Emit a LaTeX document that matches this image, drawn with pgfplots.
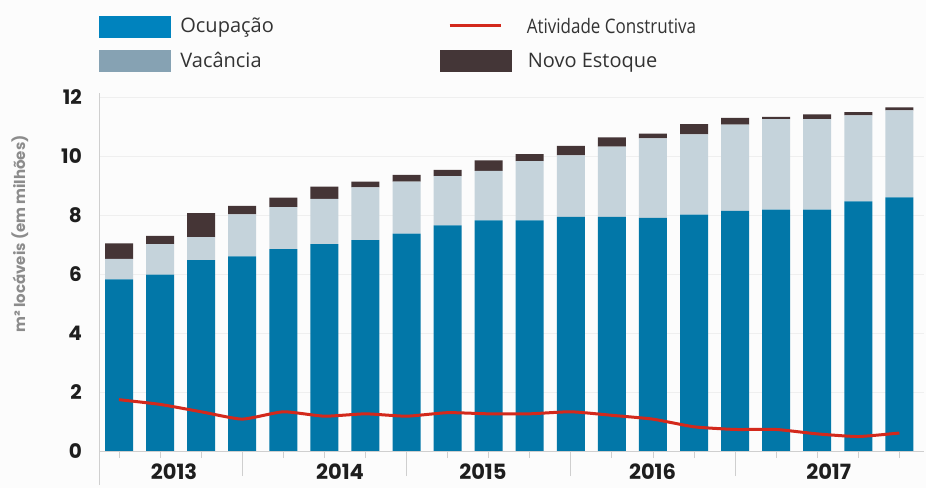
\documentclass[border=0pt]{standalone}
\usepackage{pgfplots}
\pgfplotsset{compat=1.18}
\usepackage{pgfplotstable}
\usepackage{fontspec}
\setmainfont{Poppins}
\newfontfamily\legfont{Open Sans}
\definecolor{ocupc}{HTML}{0277A8}
\definecolor{vacc}{HTML}{C5D3DB}
\definecolor{novoc}{HTML}{453536}
\definecolor{redc}{HTML}{D3291C}
\definecolor{legocup}{HTML}{0083BE}
\definecolor{legvac}{HTML}{86A2B3}
\definecolor{legnovo}{HTML}{443637}
\definecolor{gridc}{HTML}{EFEFEF}
\definecolor{axisc}{HTML}{CFCFCF}
\definecolor{tickc}{HTML}{1E1E1E}
\definecolor{ylabc}{HTML}{8C8C8C}
\definecolor{legtext}{HTML}{333333}
\definecolor{bgc}{HTML}{FCFCFC}

\pgfplotstableread{
i ocup vac novo
0 5.82 0.69 0.53
1 5.98 1.03 0.28
2 6.47 0.78 0.81
3 6.60 1.42 0.29
4 6.84 1.43 0.32
5 7.01 1.54 0.41
6 7.15 1.79 0.19
7 7.37 1.76 0.23
8 7.65 1.67 0.21
9 7.82 1.68 0.35
10 7.82 2.01 0.23
11 7.94 2.08 0.32
12 7.94 2.38 0.31
13 7.90 2.70 0.16
14 8.01 2.72 0.35
15 8.14 2.92 0.23
16 8.18 3.07 0.08
17 8.18 3.07 0.16
18 8.46 2.92 0.11
19 8.60 2.95 0.10
}\bardata

\pgfplotstableread{
i ativ
0 1.74
1 1.58
2 1.33
3 1.08
4 1.33
5 1.18
6 1.26
7 1.18
8 1.30
9 1.26
10 1.26
11 1.33
12 1.21
13 1.08
14 0.82
15 0.73
16 0.73
17 0.58
18 0.49
19 0.61
}\linedata

\begin{document}
\begin{tikzpicture}
\useasboundingbox (0,0) rectangle (926bp,488bp);
\fill[bgc] (0,0) rectangle (926bp,488bp);
\begin{axis}[
  at={(99bp,37bp)}, anchor=south west,
  scale only axis, width=825bp, height=358.4bp,
  xmin=-0.487, xmax=19.6, ymin=0, ymax=12.15,
  ybar stacked, bar width=28bp,
  axis x line*=bottom, axis y line*=left,
  axis line style={draw=axisc, line width=1bp, -},
  y axis line style={shorten <=-34bp},
  xtick={0,...,19}, xticklabels={},
  extra x ticks={3,7,11,15}, extra x tick labels={},
  extra x tick style={major tick length=25bp, grid=none},
  tick align=outside, major tick length=7bp,
  x tick style={draw=axisc, line width=0.8bp},
  ytick={0,2,...,12},
  ytick style={draw=none},
  /pgf/number format/assume math mode=true,
  ymajorgrids, grid style={draw=gridc, line width=1bp},
  yticklabel style={font=\bfseries\fontsize{20bp}{22bp}\selectfont, text=tickc, inner sep=0pt, xshift=-10bp},
  ylabel={m² locáveis (em milhões)},
  ylabel style={at={(axis description cs:-0.0958,0.6055)}, anchor=center, font=\bfseries\fontsize{15bp}{17bp}\selectfont, text=ylabc},
  legend columns=2,
  legend cell align=left,
  legend style={at={(axis description cs:0,1.2146)}, anchor=north west, draw=none, fill=none,
    inner sep=0pt, outer sep=0pt, nodes={inner sep=0pt},
    font=\legfont\fontsize{20bp}{22bp}\selectfont, text=legtext,
    /tikz/every odd column/.style={column sep=10bp}, row sep=13bp},
]
\addlegendimage{legend image code/.code={\fill[legocup] (0bp,-10.5bp) rectangle (71bp,10.5bp);}}
\addlegendimage{legend image code/.code={\path[draw=none,fill=none] (0bp,-10.5bp) rectangle (71bp,10.5bp); \draw[redc, line width=3bp] (9bp,1bp) -- (60bp,1bp);}}
\addlegendimage{legend image code/.code={\fill[legvac] (0bp,-10.5bp) rectangle (71bp,10.5bp);}}
\addlegendimage{legend image code/.code={\fill[legnovo] (0bp,-10.5bp) rectangle (71bp,10.5bp);}}
\legend{\makebox[260bp][l]{Ocupação},\hspace{5bp}\scalebox{0.85}[1]{Atividade Construtiva},\makebox[260bp][l]{Vacância},\hspace{6bp}Novo Estoque}
\addplot[fill=ocupc, draw=none, forget plot] table[x=i, y=ocup] {\bardata};
\addplot[fill=vacc, draw=none, forget plot] table[x=i, y=vac] {\bardata};
\addplot[fill=novoc, draw=none, forget plot] table[x=i, y=novo] {\bardata};
\end{axis}
\begin{axis}[
  at={(99bp,37bp)}, anchor=south west,
  scale only axis, width=825bp, height=358.4bp,
  xmin=-0.487, xmax=19.6, ymin=0, ymax=12.15,
  axis x line*=bottom, axis y line=none,
  x axis line style={draw=none},
  major tick length=0pt, ytick=\empty,
  xtick={1.34,5.38,8.86,12.99,17.28},
  xticklabels={2013,\raisebox{-2bp}{2014},\raisebox{-1bp}{2015},\raisebox{-1bp}{2016},2017},
  xticklabel style={font=\bfseries\fontsize{21bp}{23bp}\selectfont, text=tickc, anchor=north, inner sep=0pt, yshift=-13bp},
]
\addplot[redc, line width=3bp, smooth, tension=0.3, line join=round] table[x=i, y=ativ] {\linedata};
\end{axis}
\end{tikzpicture}
\end{document}
